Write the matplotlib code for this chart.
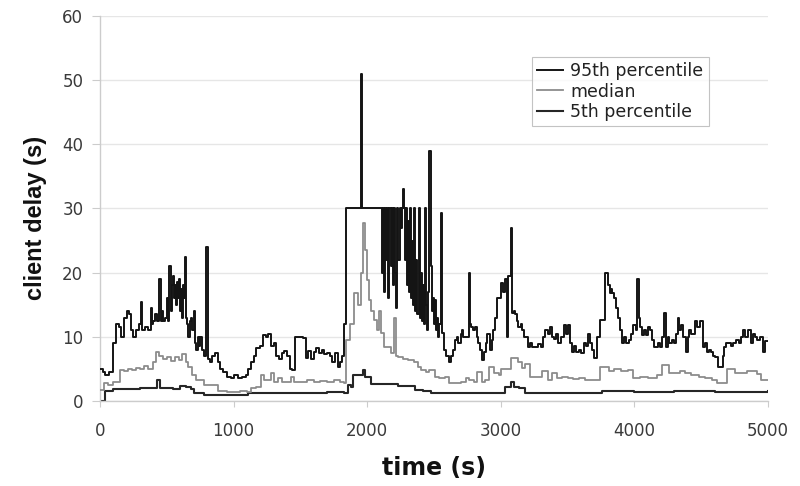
import matplotlib
matplotlib.use("Agg")
import matplotlib.pyplot as plt

plt.rcParams['font.family'] = ['DejaVu Sans']

# ---------------- data ----------------
p95_t = [0, 20, 40, 70, 100, 120, 140, 160, 180, 200, 215, 230, 250, 270, 290, 305, 315, 340, 360,
         380, 390, 400, 415, 430, 445, 455, 465, 475, 490, 500, 510, 520, 528, 536, 545, 552, 560,
         568, 575, 582, 590, 597, 605, 612, 620, 628, 635, 642, 650, 660, 670, 680, 690, 700, 708,
         720, 730, 740, 750, 765, 780, 795, 805, 820, 840, 860, 880,
         900, 920, 950, 980, 1000, 1030, 1060, 1090, 1110, 1130, 1150, 1170, 1200, 1220, 1240, 1260,
         1280, 1300, 1320, 1340, 1360, 1380, 1400, 1420, 1440, 1460, 1480, 1500, 1520, 1540, 1560,
         1580, 1600, 1620, 1640, 1660, 1680, 1700, 1720, 1740, 1760, 1780, 1800, 1810, 1830, 1840,
         1955, 1962, 1970, 2100, 2108, 2116, 2124, 2132, 2140, 2150, 2158, 2166, 2175, 2185, 2192,
         2200, 2210, 2218, 2226, 2234, 2242, 2250, 2258, 2265, 2272, 2280, 2288, 2296, 2304, 2312,
         2320, 2328, 2336, 2344, 2352, 2360, 2368, 2376, 2384, 2392, 2400, 2408, 2416, 2424, 2432,
         2440, 2448, 2456, 2466, 2474, 2482, 2490, 2498, 2506, 2514, 2522, 2530, 2540, 2550, 2560,
         2575, 2590, 2610, 2630, 2645, 2655, 2670, 2680, 2700, 2710, 2720, 2740,
         2759, 2768, 2780, 2790, 2810, 2820, 2830, 2845, 2857, 2875, 2890, 2900, 2920, 2935, 2945,
         2960, 2975, 3000, 3015, 3030, 3045, 3055, 3075, 3085, 3100, 3110, 3120, 3130, 3150, 3160,
         3170, 3190, 3200, 3215, 3230, 3255, 3280, 3300, 3315, 3330, 3350, 3370, 3385,
         3400, 3415, 3430, 3450, 3470, 3485, 3500, 3515, 3530, 3545, 3560, 3586, 3600, 3620, 3640,
         3654, 3668, 3680, 3700, 3720, 3740, 3760, 3782, 3800, 3815, 3825, 3835, 3850, 3865, 3880,
         3895, 3910, 3925, 3940, 3960, 3975, 3990, 4010, 4023, 4033, 4045, 4060, 4075, 4090,
         4105, 4120, 4135, 4150, 4175, 4195, 4210, 4225, 4235, 4250, 4260, 4280, 4300, 4310, 4323,
         4335, 4350, 4365, 4385, 4400, 4410, 4425, 4450, 4470, 4490, 4510, 4525, 4540, 4555, 4570,
         4585, 4600, 4625, 4645, 4660, 4670, 4685, 4700, 4720, 4740, 4760, 4780, 4795,
         4810, 4830, 4850, 4870, 4885, 4900, 4920, 4940, 4960, 4980, 5000]
p95_v = [5, 4.5, 4, 4.5, 9, 12, 11.5, 10, 13, 14, 13.5, 11, 10, 11, 12, 15.5, 11, 11.5, 11,
         14.5, 12, 12.5, 13.5, 12.5, 19, 12.5, 14, 12.5, 13, 16, 12.5, 21, 14, 18, 19.5, 16, 18,
         15, 18.5, 16, 19, 14, 17.5, 13, 18, 16, 22.5, 13, 12, 10, 12.5, 13, 11, 14, 9,
         8, 10, 8.5, 10, 8, 7, 24, 6.5, 6, 7, 7.5, 6,
         5, 4.5, 3.8, 3.6, 4, 3.5, 3.8, 4, 5, 6, 7, 8.3, 8.5, 10.3, 10, 10.5,
         8.5, 9, 7, 6.5, 7.5, 7.8, 7, 5, 4.8, 10, 10, 10, 9.8, 6.7, 7.8,
         6.5, 7.6, 8.3, 7.5, 8, 7.3, 7.5, 7, 6, 7.5, 5.3, 6, 7, 12, 30,
         51, 30, 30, 30, 20, 30, 17, 30, 22, 30, 16, 30, 21, 30, 18,
         30, 20, 14.5, 30, 22, 30, 27, 30, 33, 30, 22, 30, 18, 28, 17,
         30, 16, 25, 15, 30, 14, 22, 13.5, 30, 13, 20, 12.5, 18, 12, 30,
         15, 11, 17, 39, 21, 14, 16, 12, 15.7, 11, 13, 10, 12, 29.3, 10.6,
         8, 7, 6, 7, 8, 9.5, 10, 9, 10.5, 11, 10, 10,
         20, 12, 11.5, 11, 11.5, 10, 9, 8, 6.4, 7.7, 9, 10.5, 8, 9.5, 11,
         13, 16, 18.4, 17, 19, 10, 19.5, 27, 13.7, 14, 13.5, 12.5, 11.5, 12, 11,
         10, 10, 8.4, 9, 8.4, 8.4, 8.8, 8.4, 10, 11, 10.5, 11.5, 10,
         9.7, 10.5, 9, 10, 11.8, 10.5, 11.8, 9, 7.6, 8.5, 7.6, 8, 7.5, 9, 8.5,
         10.4, 9, 8, 6.7, 10, 12.6, 12.6, 20, 18, 16.8, 17.5, 16.8, 16, 14.5, 13,
         11, 9, 10, 9, 9.5, 10.5, 11.8, 11, 19, 13, 11.5, 10.3, 11, 10.3,
         11.5, 11, 9.5, 8.4, 9, 8.4, 10, 13.7, 8.4, 10, 9, 9.5, 9, 10.5, 13,
         11, 11.8, 10, 7.6, 10, 11, 10.5, 12.4, 11.5, 12.4, 8.4, 9, 7.6, 8, 7.6,
         7, 6.8, 5.3, 5.3, 7, 8.4, 9, 9, 8.5, 9, 9.5, 9, 10,
         11, 10, 11, 9, 10.5, 10, 9.5, 10, 7.6, 9.4, 9.4]

med_t = [0, 30, 60, 100, 150, 180, 210, 240, 270, 300, 330, 360, 400, 420, 440, 470, 500, 530,
         560, 590, 617, 640, 662, 690, 720, 750, 780, 830, 880, 950, 1000, 1050, 1100, 1130, 1170,
         1203, 1230, 1278, 1300, 1330, 1360, 1400, 1428, 1450, 1500, 1550, 1600, 1650, 1700, 1750,
         1800, 1830, 1842, 1870, 1902, 1930, 1950, 1970, 1980, 1995, 2010, 2030, 2050, 2075, 2090,
         2105, 2128, 2158, 2180, 2203, 2215, 2233, 2270, 2308, 2353, 2380, 2406, 2440, 2459, 2504,
         2540, 2579, 2609, 2654, 2700, 2740, 2760, 2800, 2820, 2857, 2880, 2910, 2950, 2985, 3000,
         3040, 3080, 3100, 3130, 3160, 3180, 3220, 3285, 3310, 3350, 3380, 3420, 3460, 3500, 3540,
         3586, 3630, 3700, 3740, 3782, 3810, 3850, 3900, 3950, 3990, 4040, 4100, 4135, 4170, 4210,
         4260, 4300, 4340, 4380, 4420, 4480, 4530, 4580, 4620, 4660, 4690, 4750, 4800, 4840, 4880,
         4920, 4950, 5000]
med_v = [1.7, 2.8, 2.5, 3, 4.8, 4.6, 5, 4.8, 5.2, 5, 5.5, 5, 6, 7.6, 7, 6.5, 6.8, 6.2,
         6.8, 6.4, 7.3, 6, 5.3, 4, 3.3, 3.3, 2.5, 2.5, 1.5, 1.4, 1.4, 1.5, 1.4, 2, 2.2,
         4, 3.3, 4.3, 3, 3.5, 3, 3, 3.8, 3, 3, 3.2, 3, 3.1, 3, 3.2,
         3, 2.8, 9.5, 12, 16.8, 15, 20, 27.7, 23.6, 18.8, 15.7, 14, 12.6, 11, 14,
         10.6, 8.4, 8.4, 7.5, 13, 7, 6.8, 6.6, 6.4, 6, 5.3, 4.8, 4.5, 4.8, 3.7,
         3.5, 3.7, 2.8, 2.8, 3, 3.5, 3.3, 3, 4.5, 3, 3.3, 5.3, 4.3, 4, 5,
         5, 6.7, 6.7, 6, 5.2, 5.8, 3.7, 3.7, 4.7, 3.3, 4.3, 3.5, 3.8, 3.6, 3.4,
         3.5, 3.3, 3.3, 5.3, 5.3, 4.7, 5, 4.6, 4.8, 3.5, 3.7, 3.5, 3.6, 4, 5.6,
         4.3, 4.3, 4.6, 4.4, 4, 3.7, 3.5, 3.2, 2.8, 2.8, 5, 4.3, 4.3, 4.6, 4.7,
         4.2, 3.3, 3.3]

p5_t = [0, 35, 40, 100, 200, 300, 400, 428, 450, 500, 550, 600, 640, 680, 700, 775, 1000, 1100,
        1110, 1300, 1500, 1700, 1830, 1857, 1880, 1890, 1955, 1970, 1985, 2000, 2030, 2130, 2233,
        2300, 2360, 2420, 2480, 2700, 2900, 3000, 3030, 3075, 3100, 3135, 3180, 3400, 3600, 3750,
        3760, 3980, 4000, 4300, 4600, 5000]
p5_v = [0, 0, 1.5, 1.9, 1.9, 2, 2, 3.3, 2, 2, 1.9, 2.3, 2.2, 1.8, 1.2, 1.0, 1.0, 1.0,
        1.3, 1.3, 1.3, 1.4, 1.3, 2.5, 2.2, 4.0, 4.0, 4.8, 3.8, 3.8, 2.6, 2.7, 2.4,
        2.4, 1.7, 1.5, 1.2, 1.2, 1.2, 1.2, 2.2, 3, 2.2, 2, 1.3, 1.3, 1.3, 1.3,
        1.6, 1.6, 1.4, 1.5, 1.4, 1.5]

labels = ['95th percentile', 'median', '5th percentile']
x_ticks = [0, 1000, 2000, 3000, 4000, 5000]
y_ticks = [0, 10, 20, 30, 40, 50, 60]

# ---------------- figure ----------------
fig = plt.figure(figsize=(8.0, 4.86), dpi=100)
ax = fig.add_axes([0.125, 0.175, 0.835, 0.792])

ax.plot(p95_t, p95_v, color='#141414', lw=1.4, drawstyle='steps-post', label=labels[0], zorder=4)
ax.plot(med_t, med_v, color='#8c8c8c', lw=1.3, drawstyle='steps-post', label=labels[1], zorder=3)
ax.plot(p5_t, p5_v, color='#262626', lw=1.5, drawstyle='steps-post', label=labels[2], zorder=2)

ax.set_xlim(0, 5000)
ax.set_ylim(0, 60)
ax.set_xticks(x_ticks)
ax.set_yticks(y_ticks)
ax.yaxis.grid(True, color='#e6e6e6', lw=1.0)
ax.set_axisbelow(True)

for s in ['top', 'right']:
    ax.spines[s].set_visible(False)
for s in ['left', 'bottom']:
    ax.spines[s].set_color('#cccccc')
    ax.spines[s].set_linewidth(1.0)
ax.tick_params(axis='x', colors='#cccccc', labelcolor='#3a3a3a', labelsize=12, length=4.5, pad=11)
ax.tick_params(axis='y', colors='#cccccc', labelcolor='#3a3a3a', labelsize=12, length=6, pad=6)

ax.set_xlabel('time (s)', fontsize=17, fontweight='bold', color='#111111')
ax.set_ylabel('client delay (s)', fontsize=17, fontweight='bold', color='#111111',
              family=['Liberation Sans', 'DejaVu Sans'])
ax.xaxis.set_label_coords(0.5, -0.143)
ax.yaxis.set_label_coords(-0.079, 0.475)

leg = ax.legend(loc='upper left', bbox_to_anchor=(0.647, 0.893), fontsize=12.5,
                frameon=True, fancybox=False, handlelength=1.5, borderpad=0.3,
                labelspacing=0.12, handletextpad=0.4, borderaxespad=0.0)
leg.get_frame().set_edgecolor('#b5b5b5')
leg.get_frame().set_linewidth(0.8)
for txt in leg.get_texts():
    txt.set_color('#222222')

fig.savefig('out.png', dpi=100)
